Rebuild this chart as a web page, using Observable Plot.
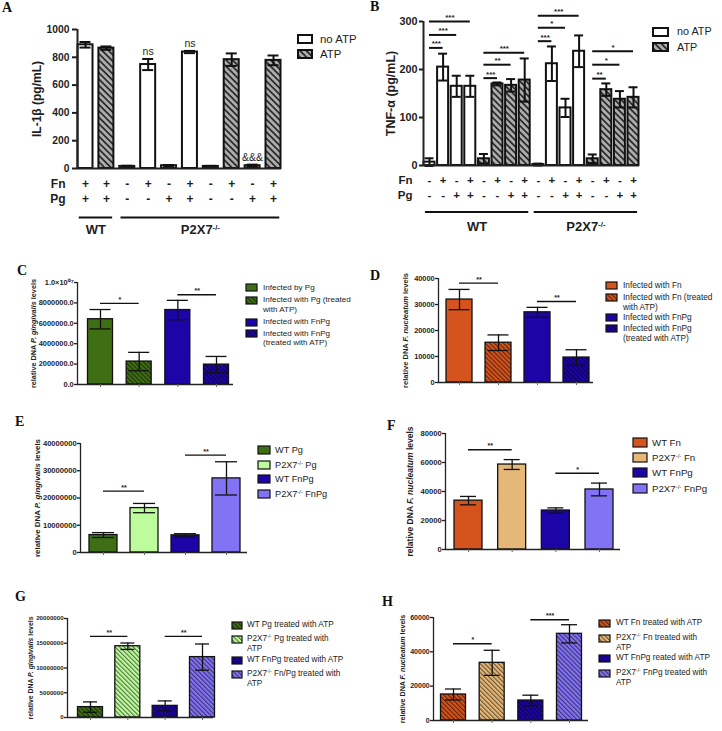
<!DOCTYPE html>
<html><head><meta charset="utf-8">
<script src="https://cdn.jsdelivr.net/npm/d3@7"></script>
<script src="https://cdn.jsdelivr.net/npm/@observablehq/plot@0.6"></script>
<style>
html,body{margin:0;padding:0;background:#fff}
#page{position:relative;width:722px;height:731px;overflow:hidden;font-family:"Liberation Sans",Arial,sans-serif;color:#1e1e1e}
.letter{position:absolute;font-family:"Liberation Serif","Times New Roman",serif;font-weight:bold;font-size:14px;line-height:14px;color:#111}
.leg{position:absolute;white-space:nowrap;color:#222}
.sup{font-size:0.6em;vertical-align:0.6em;line-height:0}
</style></head>
<body><div id="page"><svg width="0" height="0" style="position:absolute;left:0;top:0"><defs id="defs"></defs></svg></div>
<script>
// ---------------- DATA ----------------
// Panel A: IL-1β (pg/mL)
const A_FN   = ["+","+","-","+","-","+","-","+","-","+"];
const A_PG   = ["+","+","-","-","+","+","-","-","+","+"];
const A_ATP  = ["no ATP","ATP","no ATP","no ATP","no ATP","no ATP","ATP","ATP","ATP","ATP"];
const A_MEAN = [890,866,15,748,20,838,15,783,20,778];
const A_ERR  = [20,12,5,40,5,8,4,45,8,35];
const A_NOTE_BAR  = [4,6,9];
const A_NOTE_TEXT = ["ns","ns","&&&"];
const A_TICKS = [0,200,400,600,800,1000];
const A_GROUP_NAMES = ["WT","P2X7-/-"];
const A_GROUP_FIRST = [1,3];
const A_GROUP_LAST  = [2,10];

// Panel B: TNF-α (pg/mL)
const B_FN   = ["-","+","-","+","-","+","-","+","-","+","-","+","-","+","-","+"];
const B_PG   = ["-","-","+","+","-","-","+","+","-","-","+","+","-","-","+","+"];
const B_ATP  = ["no ATP","no ATP","no ATP","no ATP","ATP","ATP","ATP","ATP","no ATP","no ATP","no ATP","no ATP","ATP","ATP","ATP","ATP"];
const B_MEAN = [7,205,165,165,14,170,167,178,2,212,120,238,14,158,138,142];
const B_ERR  = [8,28,22,22,10,3,13,45,2,36,19,33,9,13,17,21];
const B_TICKS = [0,100,200,300];
const B_SIG_FROM = [1,1,1,5,5,5,9,9,9,13,13,13];
const B_SIG_TO   = [2,3,4,6,7,8,10,11,12,14,15,16];
const B_SIG_Y    = [245,272,300,182,210,235,259,287,312,181,210,238];
const B_SIG_TEXT = ["***","***","***","***","**","***","***","*","***","**","*","*"];
const B_GROUP_NAMES = ["WT","P2X7-/-"];
const B_GROUP_FIRST = [1,9];
const B_GROUP_LAST  = [8,16];
const ATP_LEVELS = ["no ATP","ATP"];

// Panel C
const C_LABELS = ["Infected by Pg","Infected with Pg (treated\nwith ATP)","Infected with FnPg","Infected with FnPg\n(treated with ATP)"];
const C_MEAN = [6.4e6,2.25e6,7.3e6,1.95e6];
const C_ERR  = [0.95e6,0.9e6,0.95e6,0.8e6];
const C_TICKS = [0,2e6,4e6,6e6,8e6,1e7];
const C_TICK_LABELS = ["0.0","2000000.0","4000000.0","6000000.0","8000000.0","1.0×10⁰⁷"];
const C_SIG_FROM = [1,3], C_SIG_TO = [2,4], C_SIG_Y = [7.95e6,8.8e6], C_SIG_TEXT = ["*","**"];

// Panel D
const D_LABELS = ["Infected with Fn","Infected with Fn (treated\nwith ATP)","Infected with FnPg","Infected with FnPg\n(treated with ATP)"];
const D_MEAN = [31900,15300,27000,9600];
const D_ERR  = [3900,3000,1900,3000];
const D_TICKS = [0,10000,20000,30000,40000];
const D_TICK_LABELS = ["0","10000","20000","30000","40000"];
const D_SIG_FROM = [1,3], D_SIG_TO = [2,4], D_SIG_Y = [38200,31150], D_SIG_TEXT = ["**","**"];

// Panel E
const E_LABELS = ["WT Pg","P2X7-/- Pg","WT FnPg","P2X7-/- FnPg"];
const E_MEAN = [6.4e6,16.3e6,6.3e6,27.2e6];
const E_ERR  = [0.9e6,1.7e6,0.6e6,6.1e6];
const E_TICKS = [0,1e7,2e7,3e7,4e7];
const E_TICK_LABELS = ["0","10000000","20000000","30000000","40000000"];
const E_SIG_FROM = [1,3], E_SIG_TO = [2,4], E_SIG_Y = [22.5e6,35.7e6], E_SIG_TEXT = ["**","**"];

// Panel F
const F_LABELS = ["WT Fn","P2X7-/- Fn","WT FnPg","P2X7-/- FnPg"];
const F_MEAN = [33700,58600,26900,41400];
const F_ERR  = [2900,3400,1800,4400];
const F_TICKS = [0,20000,40000,60000,80000];
const F_TICK_LABELS = ["0","20000","40000","60000","80000"];
const F_SIG_FROM = [1,3], F_SIG_TO = [2,4], F_SIG_Y = [68800,52600], F_SIG_TEXT = ["**","*"];

// Panel G
const G_LABELS = ["WT Pg treated with ATP","P2X7-/- Pg treated with\nATP","WT FnPg treated with ATP","P2X7-/- Fn/Pg treated with\nATP"];
const G_MEAN = [2.1e6,14.4e6,2.35e6,12.2e6];
const G_ERR  = [1.05e6,0.65e6,1e6,2.65e6];
const G_TICKS = [0,5e6,1e7,1.5e7,2e7];
const G_TICK_LABELS = ["0","5000000","10000000","15000000","20000000"];
const G_SIG_FROM = [1,3], G_SIG_TO = [2,4], G_SIG_Y = [16.4e6,16.4e6], G_SIG_TEXT = ["**","**"];

// Panel H
const H_LABELS = ["WT Fn treated with ATP","P2X7-/- Fn treated with\nATP","WT FnPg reated with ATP","P2X7-/- FnPg treated with\nATP"];
const H_MEAN = [15150,33600,11650,50500];
const H_ERR  = [3200,7300,3100,5300];
const H_TICKS = [0,20000,40000,60000];
const H_TICK_LABELS = ["0","20000","40000","60000"];
const H_SIG_FROM = [1,3], H_SIG_TO = [2,4], H_SIG_Y = [44700,58700], H_SIG_TEXT = ["*","***"];

const TITLE_PG = "relative DNA P. gingivalis levels";
const TITLE_FN = "relative DNA F. nucleatum levels";

// ---------------- STYLE ----------------
const page = document.getElementById("page");
const defs = d3.select("#defs");
let patN = 0;
function hatch(bg, stripe, op, sp, lw) {
  const id = "hatch" + (patN++);
  const p = defs.append("pattern").attr("id", id).attr("patternUnits", "userSpaceOnUse")
    .attr("width", sp).attr("height", sp).attr("patternTransform", "rotate(-45)");
  p.append("rect").attr("width", sp).attr("height", sp).attr("fill", bg);
  p.append("rect").attr("width", lw).attr("height", sp).attr("fill", stripe).attr("fill-opacity", op);
  return `url(#${id})`;
}
const GREEN = "#3f6f14", LGREEN = "#bdfc9c", BLUE = "#1c05a6", PURPLE = "#8273f5", ORANGE = "#d5531c", TAN = "#e6b877";
const hc = c => hatch(c, "#000", 0.55, 3.2, 1.1);
const GRAY_HATCH = hatch("#adadad", "#2e2e2e", 1, 4.5, 1.8);
const atpFill = a => a === "ATP" ? GRAY_HATCH : "#ffffff";

const FONT = "'Liberation Sans', Arial, sans-serif";
const baseStyle = (fs) => ({background: "none", fontFamily: FONT, fontSize: fs + "px", color: "#1e1e1e", overflow: "visible"});

function place(el, left, top) {
  el.style.position = "absolute";
  el.style.left = left + "px";
  el.style.top = top + "px";
  el.style.maxWidth = "none";
  page.appendChild(el);
}
function fixText(svg) {
  d3.select(svg).selectAll("text").each(function () {
    const s = this.textContent;
    const m = s.match(/^(.*?)(P\. gingivalis|F\. nucleatum)(.*)$/);
    const t = d3.select(this);
    if (m) {
      this.textContent = "";
      t.append("tspan").text(m[1]);
      t.append("tspan").attr("font-style", "italic").text(m[2]);
      t.append("tspan").text(m[3]);
    } else if (s.includes("-/-")) {
      const [a, b] = s.split("-/-");
      this.textContent = "";
      t.append("tspan").text(a);
      t.append("tspan").attr("font-size", "0.6em").attr("dy", "-0.55em").text("-/-");
      if (b) t.append("tspan").attr("dy", "0.55em").text(b);
    }
  });
}
function xDomain(c) {
  const s = (c.cLast - c.cFirst) / (c.n - 1);
  return {s, xd: [1 - (c.cFirst - c.axisX) / s, c.n + (c.xEnd - c.cLast) / s]};
}
function barPlot(c) {
  const {s, xd} = xDomain(c);
  const top = Math.max(0, c.yTop - 22);
  const mL = c.axisX - c.left, mT = c.yTop - top, mR = 6, mB = 8;
  const width = mL + (c.xEnd - c.axisX) + mR;
  const height = mT + (c.y0 - c.yTop) + mB;
  const hb = c.barW / 2 / s, hcap = c.capW / 2 / s;
  const data = c.means.map((v, k) => ({i: k + 1, v, e: c.errs[k], f: c.fills[k]}));
  const fmt = d => c.tickLabels ? c.tickLabels[c.ticks.indexOf(d)] : String(d);
  const marks = [
    Plot.rect(data, {x1: d => d.i - hb, x2: d => d.i + hb, y1: 0, y2: "v", fill: "f", stroke: "#111", strokeWidth: c.sw}),
    Plot.ruleX(data, {x: "i", y1: d => d.v - d.e, y2: d => d.v + d.e, stroke: "#111", strokeWidth: c.sw}),
    Plot.ruleY(data, {y: d => d.v + d.e, x1: d => d.i - hcap, x2: d => d.i + hcap, stroke: "#111", strokeWidth: c.sw}),
    Plot.ruleY(data, {y: d => d.v - d.e, x1: d => d.i - hcap, x2: d => d.i + hcap, stroke: "#111", strokeWidth: c.sw}),
    Plot.ruleY([0], {stroke: "#222", strokeWidth: c.aw}),
    Plot.ruleX([xd[0]], {y1: 0, y2: c.yMax, stroke: "#222", strokeWidth: c.aw}),
    Plot.axisY({ticks: c.ticks, tickFormat: fmt, tickSize: c.tickSize, tickPadding: c.tickPad, strokeWidth: c.aw, label: null, fontSize: c.tickFont, fontWeight: "bold"}),
    Plot.text([c.title], {text: d => d, frameAnchor: "left", rotate: -90, dx: -c.titleOffset, textAnchor: "middle", lineAnchor: "middle", fontSize: c.titleFont, fontWeight: "bold"})
  ];
  if (c.xTicks) marks.push(Plot.axisX({ticks: d3.range(1, c.n + 1), tickFormat: () => "", tickSize: 3, stroke: "#666", label: null}));
  if (c.sig) {
    const sig = c.sig.from.map((a, k) => ({a, b: c.sig.to[k], y: c.sig.y[k], t: c.sig.text[k]}));
    marks.push(
      Plot.ruleY(sig, {y: "y", x1: "a", x2: "b", stroke: "#111", strokeWidth: c.sw}),
      Plot.text(sig, {x: d => (d.a + d.b) / 2, y: "y", text: "t", dy: -1.5, lineAnchor: "bottom", fontSize: c.sigFont, fontWeight: "bold"})
    );
  }
  if (c.notes) {
    const notes = c.notes.bar.map((b, k) => ({b, t: c.notes.text[k], y: c.means[b - 1] + c.errs[b - 1]}));
    marks.push(Plot.text(notes, {x: "b", y: "y", text: "t", dy: -4, lineAnchor: "bottom", fontSize: 10.5}));
  }
  const svg = Plot.plot({
    width, height, marginLeft: mL, marginTop: mT, marginRight: mR, marginBottom: mB,
    x: c.xTicks ? {domain: xd} : {domain: xd, axis: null},
    y: {domain: [0, c.yMax]},
    style: baseStyle(c.tickFont),
    marks
  });
  fixText(svg);
  place(svg, c.left, top);
}
function annotPlot(c, fn, pg, names, first, last) {
  const {xd} = xDomain(c);
  const mL = c.axisX - c.left, mR = 6;
  const width = mL + (c.xEnd - c.axisX) + mR;
  const h = c.rowBottom - c.rowTop;
  const bars = fn.map((f, k) => ({i: k + 1, fn: f, pg: pg[k]}));
  const groups = names.map((name, k) => ({name, first: first[k], last: last[k]}));
  const ends = groups.flatMap(g => [g.first - 0.3, g.last + 0.3]);
  const svg = Plot.plot({
    width, height: h, marginLeft: mL, marginRight: mR, marginTop: 0, marginBottom: 0,
    x: {domain: xd, axis: null},
    y: {type: "band", domain: ["Fn", "Pg", "bracket", "label"], padding: 0},
    style: baseStyle(c.rowFont),
    marks: [
      Plot.axisY({ticks: ["Fn", "Pg"], tickSize: 0, tickPadding: c.rowPad, fontSize: c.rowFont, fontWeight: "bold", label: null}),
      Plot.text(bars, {x: "i", y: () => "Fn", text: "fn", fontSize: c.rowFont, fontWeight: "bold"}),
      Plot.text(bars, {x: "i", y: () => "Pg", text: "pg", fontSize: c.rowFont, fontWeight: "bold"}),
      Plot.ruleY(groups, {x1: d => d.first - 0.3, x2: d => d.last + 0.3, y: () => "bracket", dy: c.brDy, stroke: "#111", strokeWidth: 2}),
      Plot.ruleX(ends, {x: d => d, y: () => "bracket", insetTop: 3.2, insetBottom: 3.2, dy: c.brDy, stroke: "#111", strokeWidth: 2}),
      Plot.text(groups, {x: d => (d.first + d.last) / 2, y: () => "label", text: "name", dy: c.lbDy, fontSize: 13, fontWeight: "bold"})
    ]
  });
  fixText(svg);
  place(svg, c.left, c.rowTop);
}
function fmtLabel(s) {
  return s.replace(/&/g, "&amp;").replace(/</g, "&lt;").split("\n")
    .map(l => l.replace("-/-", '<span class="sup">-/-</span>')).join("<br>");
}
function legend(labels, fills, o) {
  labels.forEach((lab, k) => {
    const y = o.ys[k];
    const box = d3.select(page).append("svg").attr("width", o.boxW + 4).attr("height", o.boxH + 4)
      .style("position", "absolute").style("left", (o.boxX - 2) + "px").style("top", (y - o.boxH / 2 - 2) + "px");
    box.append("rect").attr("x", 2).attr("y", 2).attr("width", o.boxW).attr("height", o.boxH)
      .attr("fill", fills[k]).attr("stroke", "#111").attr("stroke-width", o.bw);
    d3.select(page).append("div").attr("class", "leg")
      .style("left", o.textX + "px").style("top", (y - o.lh / 2) + "px")
      .style("font-size", o.font + "px").style("line-height", o.lh + "px")
      .html(fmtLabel(lab));
  });
}
function letter(t, x, y) {
  d3.select(page).append("div").attr("class", "letter").style("left", x + "px").style("top", y + "px").text(t);
}

// ---------------- PANELS ----------------
// A
const cfgA = {left: 0, axisX: 77, y0: 168, yTop: 29, xEnd: 281, cFirst: 85, cLast: 273, n: 10, yMax: 1000,
  ticks: A_TICKS, means: A_MEAN, errs: A_ERR, fills: A_ATP.map(atpFill), barW: 15, capW: 11, sw: 2, aw: 2,
  tickSize: 5, tickPad: 3, tickFont: 10.3, title: "IL-1β (pg/mL)", titleOffset: 40, titleFont: 12,
  notes: {bar: A_NOTE_BAR, text: A_NOTE_TEXT},
  rowTop: 175, rowBottom: 237, rowFont: 12, rowPad: 12, brDy: 3.5, lbDy: 1};
barPlot(cfgA);
annotPlot(cfgA, A_FN, A_PG, A_GROUP_NAMES, A_GROUP_FIRST, A_GROUP_LAST);
legend(ATP_LEVELS, ATP_LEVELS.map(atpFill), {boxX: 298, boxW: 14, boxH: 8, textX: 320, font: 11.4, ys: [39.3, 54.3], lh: 13, bw: 2});

// B
const cfgB = {left: 361, axisX: 423, y0: 165, yTop: 21, xEnd: 639, cFirst: 429, cLast: 633, n: 16, yMax: 300,
  ticks: B_TICKS, means: B_MEAN, errs: B_ERR, fills: B_ATP.map(atpFill), barW: 11, capW: 9, sw: 2, aw: 2,
  tickSize: 4, tickPad: 2, tickFont: 10.8, title: "TNF-α (pg/mL)", titleOffset: 33, titleFont: 12.5,
  sig: {from: B_SIG_FROM, to: B_SIG_TO, y: B_SIG_Y, text: B_SIG_TEXT}, sigFont: 8,
  rowTop: 171.5, rowBottom: 231.5, rowFont: 11.5, rowPad: 11, brDy: 2, lbDy: 2};
barPlot(cfgB);
annotPlot(cfgB, B_FN, B_PG, B_GROUP_NAMES, B_GROUP_FIRST, B_GROUP_LAST);
legend(ATP_LEVELS, ATP_LEVELS.map(atpFill), {boxX: 653, boxW: 15, boxH: 8, textX: 677, font: 10.8, ys: [31.5, 47], lh: 13, bw: 2});

const small = {sw: 1.3, aw: 1.3, tickSize: 3, tickPad: 0.8, xTicks: true, sigFont: 7};
// C
const fillsC = [GREEN, hc(GREEN), BLUE, hc(BLUE)];
barPlot({...small, left: 0, axisX: 77, y0: 384, yTop: 282, xEnd: 233, cFirst: 100, cLast: 216, n: 4, yMax: 1e7,
  ticks: C_TICKS, tickLabels: C_TICK_LABELS, means: C_MEAN, errs: C_ERR, fills: fillsC, barW: 25, capW: 21,
  tickFont: 7.4, title: TITLE_PG, titleOffset: 44, titleFont: 7.3,
  sig: {from: C_SIG_FROM, to: C_SIG_TO, y: C_SIG_Y, text: C_SIG_TEXT}});
legend(C_LABELS, fillsC, {boxX: 246, boxW: 11, boxH: 7, textX: 263, font: 8.1, ys: [287.3, 300, 322, 333.3], lh: 9.6, bw: 1.2});

// D
const fillsD = [ORANGE, hc(ORANGE), BLUE, hc(BLUE)];
barPlot({...small, left: 361, axisX: 438, y0: 382, yTop: 278, xEnd: 593, cFirst: 459, cLast: 576, n: 4, yMax: 40000,
  ticks: D_TICKS, tickLabels: D_TICK_LABELS, means: D_MEAN, errs: D_ERR, fills: fillsD, barW: 26, capW: 21,
  tickFont: 7.4, title: TITLE_FN, titleOffset: 33, titleFont: 7.5,
  sig: {from: D_SIG_FROM, to: D_SIG_TO, y: D_SIG_Y, text: D_SIG_TEXT}});
legend(D_LABELS, fillsD, {boxX: 606, boxW: 11, boxH: 7, textX: 623, font: 8.3, ys: [285, 297, 317, 328], lh: 10, bw: 1.2});

// E
const fillsE = [GREEN, LGREEN, BLUE, PURPLE];
barPlot({...small, left: 0, axisX: 80, y0: 552, yTop: 443, xEnd: 247, cFirst: 103, cLast: 226, n: 4, yMax: 4e7,
  ticks: E_TICKS, tickLabels: E_TICK_LABELS, means: E_MEAN, errs: E_ERR, fills: fillsE, barW: 28, capW: 22,
  tickFont: 7.6, title: TITLE_PG, titleOffset: 43, titleFont: 7.9,
  sig: {from: E_SIG_FROM, to: E_SIG_TO, y: E_SIG_Y, text: E_SIG_TEXT}});
legend(E_LABELS, fillsE, {boxX: 258, boxW: 12, boxH: 8, textX: 275, font: 9.2, ys: [450, 465, 479, 494], lh: 11, bw: 1.2});

// F
const fillsF = [ORANGE, TAN, BLUE, PURPLE];
barPlot({...small, left: 361, axisX: 445, y0: 549, yTop: 433, xEnd: 620, cFirst: 468, cLast: 599, n: 4, yMax: 80000,
  ticks: F_TICKS, tickLabels: F_TICK_LABELS, means: F_MEAN, errs: F_ERR, fills: fillsF, barW: 28, capW: 16,
  tickFont: 7.6, title: TITLE_FN, titleOffset: 35, titleFont: 8.5,
  sig: {from: F_SIG_FROM, to: F_SIG_TO, y: F_SIG_Y, text: F_SIG_TEXT}});
legend(F_LABELS, fillsF, {boxX: 633, boxW: 14, boxH: 9, textX: 652, font: 9.7, ys: [442, 457, 472, 488], lh: 11, bw: 1.2});

// G
const fillsG = [hc(GREEN), hc(LGREEN), hc(BLUE), hc(PURPLE)];
barPlot({...small, left: 0, axisX: 67, y0: 717, yTop: 618, xEnd: 213, cFirst: 90, cLast: 202, n: 4, yMax: 2e7,
  ticks: G_TICKS, tickLabels: G_TICK_LABELS, means: G_MEAN, errs: G_ERR, fills: fillsG, barW: 25, capW: 14,
  tickFont: 6.2, title: TITLE_PG, titleOffset: 37, titleFont: 6.9,
  sig: {from: G_SIG_FROM, to: G_SIG_TO, y: G_SIG_Y, text: G_SIG_TEXT}});
legend(G_LABELS, fillsG, {boxX: 232, boxW: 10, boxH: 7, textX: 247, font: 8.2, ys: [625, 639, 660, 674], lh: 10, bw: 1.2});

// H
const fillsH = [hc(ORANGE), hc(TAN), hc(BLUE), hc(PURPLE)];
barPlot({...small, left: 361, axisX: 433, y0: 720, yTop: 617, xEnd: 588, cFirst: 453, cLast: 569, n: 4, yMax: 60000,
  ticks: H_TICKS, tickLabels: H_TICK_LABELS, means: H_MEAN, errs: H_ERR, fills: fillsH, barW: 25, capW: 16,
  tickFont: 7, title: TITLE_FN, titleOffset: 31, titleFont: 7.1,
  sig: {from: H_SIG_FROM, to: H_SIG_TO, y: H_SIG_Y, text: H_SIG_TEXT}});
legend(H_LABELS, fillsH, {boxX: 599, boxW: 11, boxH: 7, textX: 616, font: 8.2, ys: [623, 638, 658, 673], lh: 10, bw: 1.2});

// Panel letters
letter("A", 2, 1); letter("B", 370, 0); letter("C", 17, 264); letter("D", 370, 269);
letter("E", 15, 415); letter("F", 387, 419); letter("G", 15, 590); letter("H", 382, 595);
</script></body></html>
